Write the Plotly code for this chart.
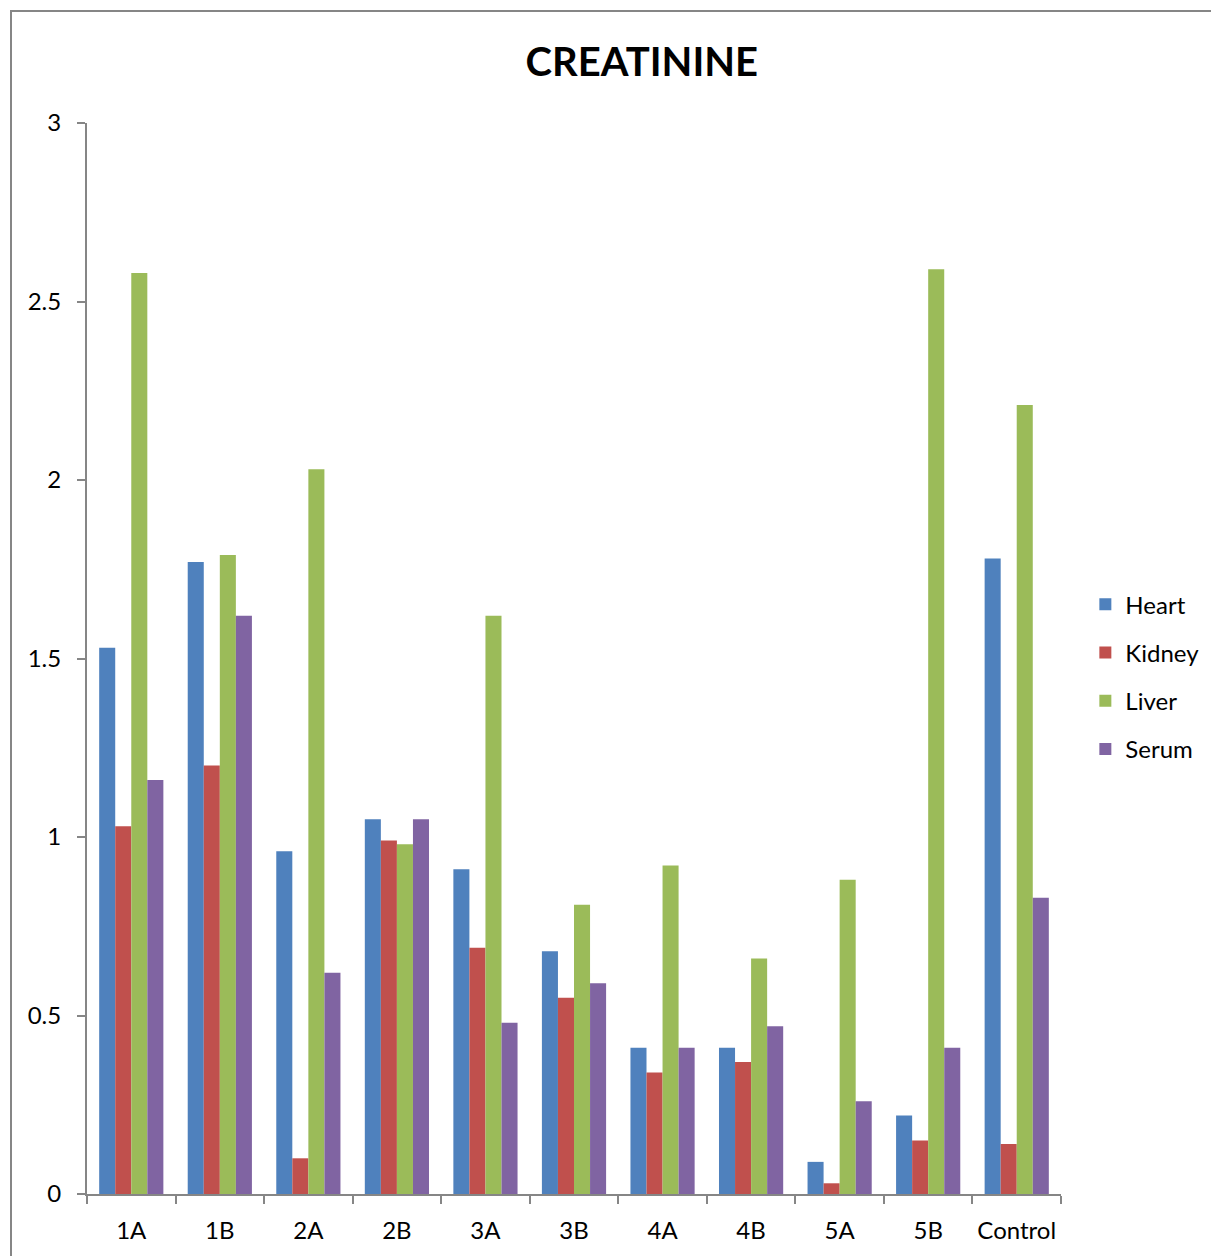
import plotly.graph_objects as go

# Creatinine measurements per sample group and tissue
groups = ["1A", "1B", "2A", "2B", "3A", "3B", "4A", "4B", "5A", "5B", "Control"]
heart = [1.53, 1.77, 0.96, 1.05, 0.91, 0.68, 0.41, 0.41, 0.09, 0.22, 1.78]
kidney = [1.03, 1.20, 0.10, 0.99, 0.69, 0.55, 0.34, 0.37, 0.03, 0.15, 0.14]
liver = [2.58, 1.79, 2.03, 0.98, 1.62, 0.81, 0.92, 0.66, 0.88, 2.59, 2.21]
serum = [1.16, 1.62, 0.62, 1.05, 0.48, 0.59, 0.41, 0.47, 0.26, 0.41, 0.83]
y_ticks = [0, 0.5, 1, 1.5, 2, 2.5, 3]
y_tick_text = ["0", "0.5", "1", "1.5", "2", "2.5", "3"]

series = [
    ("Heart", heart, "#4F81BD"),
    ("Kidney", kidney, "#C0504D"),
    ("Liver", liver, "#9BBB59"),
    ("Serum", serum, "#8064A2"),
]

FONT = "Lato, Calibri, Carlito, sans-serif"
AXIS_GREY = "#868686"

fig = go.Figure()
for name, vals, color in series:
    fig.add_trace(go.Bar(
        x=groups, y=vals, name=name, legendgroup=name,
        marker=dict(color=color, line=dict(width=0)),
    ))

fig.update_layout(
    width=1211, height=1256,
    margin=dict(l=87, r=150, t=123, b=62, autoexpand=False),
    paper_bgcolor="white", plot_bgcolor="white",
    barmode="group", bargap=0.275, bargroupgap=0,
    font=dict(family=FONT, size=24, color="black"),
    title=dict(
        text="<b>CREATININE</b>", x=0.53, xanchor="center",
        y=1 - 62 / 1256, yanchor="middle",
        font=dict(family=FONT, size=40, color="black"),
    ),
    showlegend=True,
    legend=dict(
        x=1.025, xanchor="left", y=0.483, yanchor="middle",
        font=dict(family=FONT, size=24, color="black"),
        tracegroupgap=14, itemwidth=30, bgcolor="rgba(0,0,0,0)",
    ),
    xaxis=dict(
        type="category", showgrid=False, zeroline=False,
        showline=True, linecolor=AXIS_GREY, linewidth=2,
        ticks="outside", tickson="boundaries", ticklen=8,
        tickcolor=AXIS_GREY, tickwidth=2, tickangle=0,
        tickfont=dict(family=FONT, size=24, color="black"),
        ticklabelstandoff=14,
    ),
    yaxis=dict(
        range=[0, 3], tickvals=y_ticks, ticktext=y_tick_text,
        showgrid=False, zeroline=False,
        showline=True, linecolor=AXIS_GREY, linewidth=2,
        ticks="outside", ticklen=8, tickcolor=AXIS_GREY, tickwidth=2,
        tickfont=dict(family=FONT, size=24, color="black"),
        ticklabelstandoff=11,
    ),
    shapes=[
        dict(type="rect", xref="paper", yref="paper",
             x0=(11 - 87) / 974, x1=1.3, y0=-0.2, y1=(1194 - 11) / 1071,
             line=dict(color=AXIS_GREY, width=2), fillcolor="rgba(0,0,0,0)",
             layer="below"),
    ],
)

fig.write_html("out.html")
